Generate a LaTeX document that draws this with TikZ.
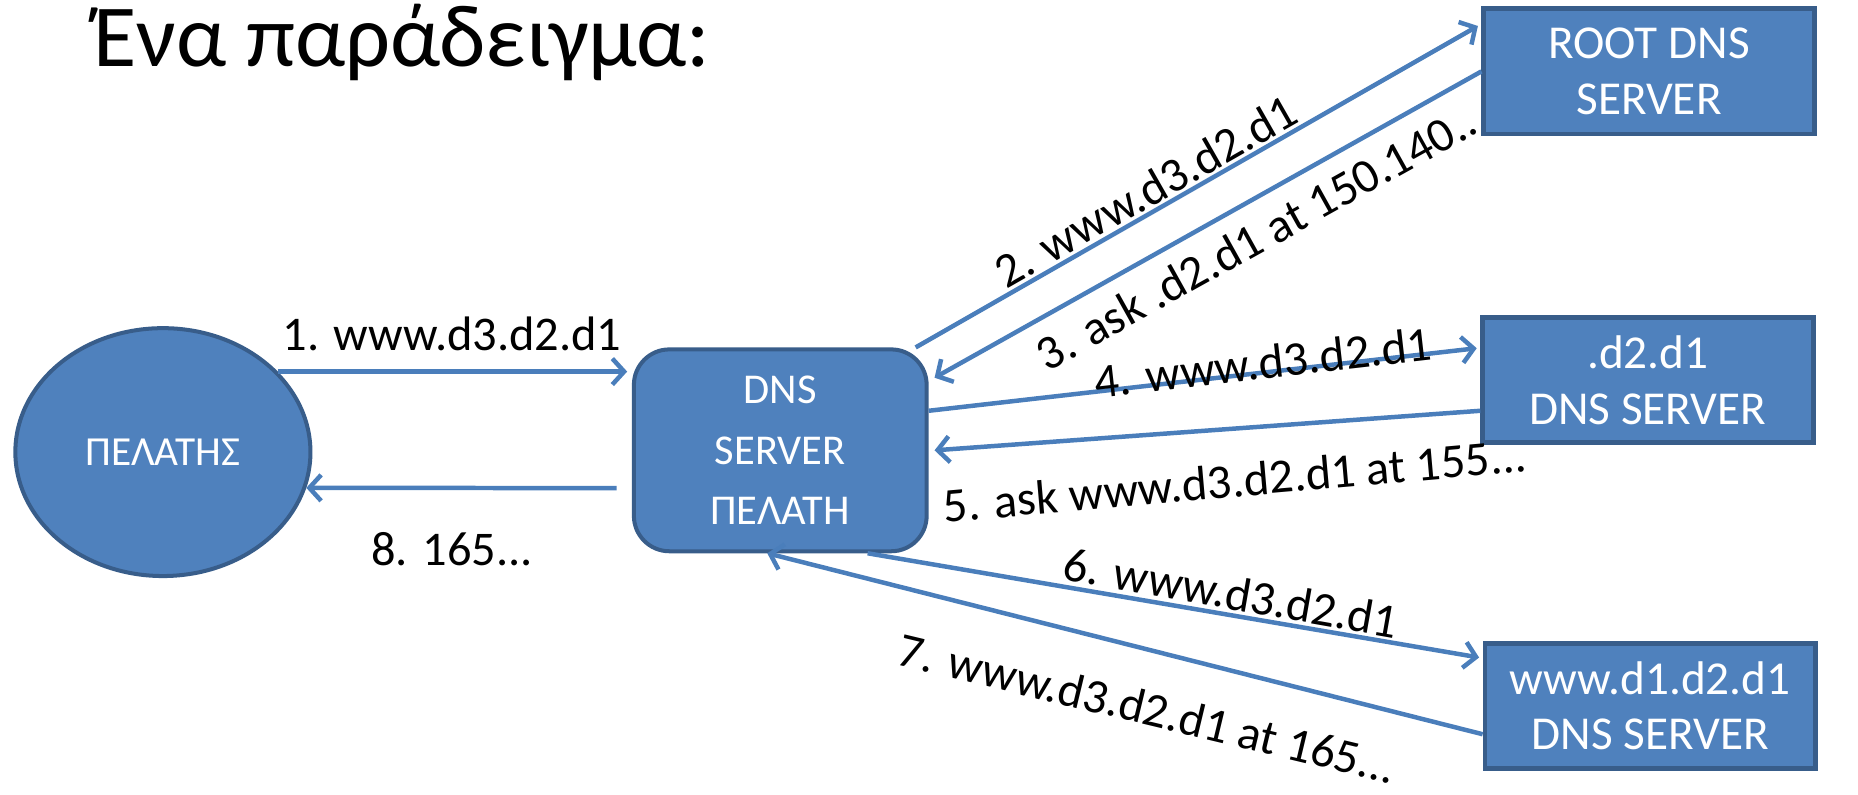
\documentclass[tikz,border=0pt]{standalone}
\usepackage{fontspec}
\setmainfont{Carlito}
\usetikzlibrary{arrows.meta,shapes.geometric,calc}
\definecolor{fillb}{HTML}{4F81BD}
\definecolor{edgeb}{HTML}{385D8A}
\definecolor{arrb}{HTML}{4A7EBB}
\begin{document}
\begin{tikzpicture}[x=0.5pt,y=-0.5pt,
 box/.style={draw=edgeb, fill=fillb, line width=1.7pt, text=white, align=center, inner sep=0pt},
 srv/.style={box, rectangle, line width=2pt, minimum width=140pt, minimum height=53pt, font=\fontsize{20}{23.5}\selectfont},
 arr/.style={draw=arrb, line width=1.9pt, -{Straight Barb[length=5pt,width=11pt]}},
 lbl/.style={font=\fontsize{20.5}{24}\selectfont, inner sep=0pt}]
\useasboundingbox (0,0) rectangle (1574,673);
\node[anchor=base west, inner sep=0pt, font=\fontsize{37.5}{42}\selectfont] (title) at (79,56) {Ένα παράδειγμα:};
\node[box, ellipse, minimum width=125pt, minimum height=105pt, font=\fontsize{17.5}{21}\selectfont] (cl) at (138,383) {ΠΕΛΑΤΗΣ};
\node[box, rectangle, rounded corners=15pt, minimum width=124pt, minimum height=85.5pt, font=\fontsize{18}{25.5}\selectfont] (dns) at (661,381.5) {DNS\\SERVER\\ΠΕΛΑΤΗ};
\node[srv] (root) at (1397,60.5) {ROOT DNS\\SERVER};
\node[srv] (d2) at (1396,322) {.d2.d1\\DNS SERVER};
\node[srv] (www) at (1398,598) {www.d1.d2.d1\\DNS SERVER};
% connectors
\draw[arr] (cl.35) -- ([xshift=-2pt]cl.35 -| dns.west);
\draw[arr] ([xshift=-6.5pt,yshift=-16pt]dns.west) -- (cl.-14);
\draw[arr] ([xshift=-5.5pt]dns.north east) -- ([xshift=-1.5pt,yshift=19.25pt]root.west);
\draw[arr] (root.west) -- ([xshift=2.5pt,yshift=30.75pt]dns.east);
\draw[arr] ([yshift=16.75pt]dns.east) -- ([xshift=-1.5pt,yshift=13.5pt]d2.west);
\draw[arr] ([yshift=-13pt]d2.west) -- ([xshift=2.5pt]dns.east);
\draw[arr] ([xshift=37pt]dns.south) -- ([xshift=-1.5pt,yshift=20.5pt]www.west);
\draw[arr] ([yshift=-12pt]www.west) -- ([xshift=-5.5pt]dns.south);
% labels
\node[lbl] (l1) at (383,283) {1. www.d3.d2.d1};
\node[lbl] (l8) at (383,465) {8. 165...};
\node[lbl, rotate=29.7] (l2) at (970,162) {2. www.d3.d2.d1};
\node[lbl, rotate=29.1] (l3) at (1064,201) {3. ask .d2.d1 at 150.140..};
\node[lbl, rotate=6.5] (l4) at (1070,307) {4. www.d3.d2.d1};
\node[lbl, rotate=5] (l5) at (1046,407) {5. ask www.d3.d2.d1 at 155...};
\node[lbl, rotate=-10] (l6) at (1043,502) {6. www.d3.d2.d1};
\node[lbl, rotate=-13.5] (l7) at (972,600) {7. www.d3.d2.d1 at 165...};
\end{tikzpicture}
\end{document}
